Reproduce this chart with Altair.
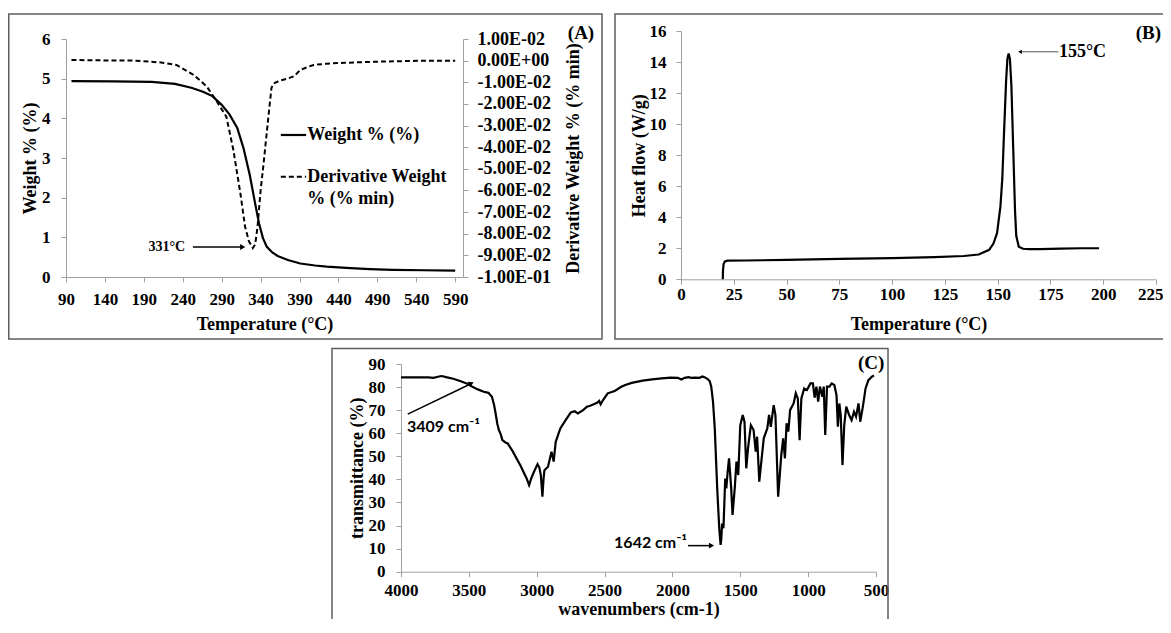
import altair as alt
import pandas as pd

# ======================= DATA =======================
# (A) TGA – weight % and derivative weight %
A_TEMP_WEIGHT = [97, 150, 200, 230, 251, 266, 278, 290, 300, 310, 318, 326, 333, 338,
                 343, 348, 355, 362, 375, 391, 410, 425, 450, 480, 510, 550, 590]
A_WEIGHT = [4.94, 4.93, 4.92, 4.87, 4.77, 4.67, 4.56, 4.34, 4.10, 3.76, 3.25, 2.58, 1.85, 1.35,
            0.98, 0.76, 0.62, 0.53, 0.43, 0.34, 0.29, 0.26, 0.23, 0.20, 0.18, 0.17, 0.16]
A_TEMP_DERIV = [97, 140, 180, 210, 232, 254, 271, 284, 296, 305, 314, 320, 325, 330, 333, 336,
                340, 344, 350, 354, 357, 365, 374, 383, 391, 400, 408, 425, 448, 470, 497, 540, 590]
A_DERIV = [0.0003, 0.0001, 0.0000, -0.0008, -0.0020, -0.0066, -0.0120, -0.0190, -0.0259,
           -0.0413, -0.0613, -0.0767, -0.0835, -0.0866, -0.0850, -0.0770, -0.0600, -0.0470,
           -0.0259, -0.0125, -0.0105, -0.0092, -0.0084, -0.0072, -0.0043, -0.0030, -0.0020,
           -0.0014, -0.0010, -0.0007, -0.0004, -0.0001, 0.0000]
A_X_TICKS = [90, 140, 190, 240, 290, 340, 390, 440, 490, 540, 590]
A_Y_TICKS = [0, 1, 2, 3, 4, 5, 6]
A_D_TICKS = [0.01, 0.0, -0.01, -0.02, -0.03, -0.04, -0.05, -0.06, -0.07, -0.08, -0.09, -0.1]
A_D_LABELS = ["1.00E-02", "0.00E+00", "-1.00E-02", "-2.00E-02", "-3.00E-02", "-4.00E-02",
              "-5.00E-02", "-6.00E-02", "-7.00E-02", "-8.00E-02", "-9.00E-02", "-1.00E-01"]
A_LEGEND = ["Weight % (%)", "Derivative Weight", "% (% min)"]
A_PEAK_LABEL = "331°C"

# (B) DSC – heat flow
B_TEMP = [19.8, 19.9, 20.2, 20.8, 22, 30, 50, 75, 100, 120, 134, 141, 146, 148, 149.7,
          151.3, 152.2, 153, 154, 154.6, 155.2, 155.8, 156.5, 157.4, 158.2, 158.8, 160,
          162, 165, 170, 180, 190, 198]
B_HEAT = [0.0, 0.6, 1.0, 1.15, 1.2, 1.21, 1.25, 1.31, 1.37, 1.43, 1.50, 1.60, 1.90, 2.30, 2.97,
          4.68, 6.5, 9.4, 12.8, 14.2, 14.55, 14.2, 12.5, 8.3, 4.5, 2.8, 2.1,
          1.97, 1.95, 1.95, 1.98, 2.0, 2.0]
B_X_TICKS = [0, 25, 50, 75, 100, 125, 150, 175, 200, 225]
B_Y_TICKS = [0, 2, 4, 6, 8, 10, 12, 14, 16]
B_PEAK_LABEL = "155°C"

# (C) FTIR – transmittance
C_WAVE = [4000, 3900, 3800, 3760, 3720, 3700, 3660, 3615, 3560, 3511,
          3470, 3434, 3390, 3356, 3330, 3315, 3305, 3290, 3279, 3265,
          3253, 3230, 3214, 3180, 3149, 3120, 3098, 3075, 3056, 3040,
          3020, 2994, 2980, 2970, 2958, 2950, 2943, 2917, 2891, 2875,
          2860, 2826, 2787, 2749, 2720, 2697, 2658, 2630, 2606, 2555,
          2540, 2529, 2510, 2477, 2425, 2380, 2348, 2300, 2219, 2150,
          2080, 2012, 1960, 1934, 1910, 1882, 1860, 1831, 1800, 1779,
          1760, 1740, 1725, 1714, 1701, 1688, 1670, 1655, 1645, 1640,
          1634, 1624, 1611, 1603, 1593, 1583, 1567, 1557, 1541, 1528,
          1515, 1500, 1482, 1469, 1456, 1443, 1422, 1402, 1386, 1376,
          1360, 1345, 1327, 1301, 1288, 1275, 1254, 1241, 1221, 1198,
          1184, 1171, 1159, 1146, 1133, 1107, 1091, 1076, 1063, 1050,
          1029, 1009, 983, 965, 952, 939, 926, 913, 895, 885,
          874, 861, 843, 827, 807, 791, 781, 770, 760, 747,
          734, 719, 698, 680, 662, 647, 629, 616, 595, 577,
          556, 530, 515]
C_TRANS = [84.2, 84.2, 84.2, 84.0, 84.6, 84.8, 84.2, 83.6, 82.5, 81.4,
           80.0, 79.0, 78.0, 77.5, 75.8, 72.5, 69.3, 64.0, 61.4, 59.5,
           57.0, 56.0, 55.6, 52.5, 49.1, 46.0, 43.3, 40.5, 37.5, 40.5,
           43.3, 46.6, 45.0, 42.0, 32.5, 40.0, 44.0, 45.5, 52.0, 47.7,
           56.3, 62.1, 65.7, 69.0, 69.5, 68.6, 70.0, 71.5, 71.9, 73.2,
           74.0, 72.5, 74.5, 77.3, 78.3, 80.0, 80.9, 81.8, 82.8, 83.3,
           83.8, 84.1, 84.0, 83.3, 84.0, 84.3, 84.0, 84.1, 84.0, 84.6,
           84.2, 83.5, 82.5, 80.2, 73.7, 62.1, 36.1, 18.8, 11.6, 14.0,
           20.9, 18.8, 40.4, 36.1, 43.3, 49.1, 36.1, 24.6, 36.1, 47.7,
           41.9, 63.5, 67.9, 65.0, 44.8, 53.4, 63.5, 61.4, 52.0, 58.5,
           39.0, 47.7, 57.8, 62.1, 67.9, 62.8, 72.2, 67.9, 32.5, 50.5,
           57.8, 49.1, 64.3, 60.7, 70.0, 72.9, 77.3, 75.1, 57.0, 75.1,
           79.4, 78.7, 81.6, 81.6, 75.4, 80.2, 73.7, 80.2, 75.8, 80.2,
           59.2, 80.2, 80.2, 81.6, 80.9, 76.5, 62.8, 72.9, 67.9, 46.2,
           63.5, 71.5, 67.9, 65.7, 69.3, 67.2, 72.9, 65.0, 72.2, 79.4,
           83.0, 84.5, 85.0]
C_X_TICKS = [4000, 3500, 3000, 2500, 2000, 1500, 1000, 500]
C_Y_TICKS = [0, 10, 20, 30, 40, 50, 60, 70, 80, 90]
C_PEAK_LABELS = ["3409 cm⁻¹", "1642 cm⁻¹"]

PANEL_LABELS = ["(A)", "(B)", "(C)"]

# ======================= LAYOUT / STYLE =======================
W, H = 1155, 611
OFF = 8  # page margin


def P(v):
    return v - OFF


SERIF = "Liberation Serif"
SANS = "Lato"
AXC = "#a0a0a0"
FRAME_C = "#5e5e5e"

A_XR = [P(66), P(463)]
A_YR = [P(277), P(39)]
B_XR = [P(681), P(1156)]
B_YR = [P(279.3), P(31)]
C_XR = [P(401), P(876)]
C_YR = [P(571.7), P(364)]


def make_axis(values, title, orient, offset, label_pad, title_pad, **extra):
    opts = dict(values=values, title=title, orient=orient, offset=offset, grid=False,
                domainColor=AXC, tickColor=AXC, tickSize=5, domainWidth=1, tickWidth=1,
                labelFont=SERIF, labelFontSize=17, labelFontWeight="bold", labelColor="black",
                labelPadding=label_pad, labelOverlap=False, labelFlush=False,
                titleFont=SERIF, titleFontSize=18, titleFontWeight="bold", titleColor="black",
                titlePadding=title_pad, minExtent=0)
    opts.update(extra)
    return alt.Axis(**opts)


# ======================= PANEL A =======================
xA = alt.X("T:Q", scale=alt.Scale(domain=[90, 600], range=A_XR, nice=False, zero=False),
           axis=make_axis(A_X_TICKS, "Temperature (°C)", "bottom", A_YR[0] - H, 9, 8))
yA = alt.Y("W:Q", scale=alt.Scale(domain=[0, 6], range=A_YR, nice=False, zero=False),
           axis=make_axis(A_Y_TICKS, "Weight % (%)", "left", -A_XR[0], 11, 2))

weight_line = alt.Chart(pd.DataFrame({"T": A_TEMP_WEIGHT, "W": A_WEIGHT})).mark_line(
    color="black", strokeWidth=2.2).encode(x=xA, y=yA)

a_ann_text = alt.Chart(pd.DataFrame({"T": [243], "W": [0.756], "label": [A_PEAK_LABEL]})).mark_text(
    align="right", baseline="middle", font=SERIF, fontWeight="bold", fontSize=14, color="black"
).encode(x=xA, y=yA, text="label:N")
a_ann_rule = alt.Chart(pd.DataFrame({"T": [253], "T2": [315], "W": [0.756]})).mark_rule(
    color="black", strokeWidth=1.5).encode(x=xA, x2="T2:Q", y=yA)
a_ann_head = alt.Chart(pd.DataFrame({"T": [317], "W": [0.756]})).mark_point(
    shape="triangle-right", filled=True, color="black", opacity=1, size=35).encode(x=xA, y=yA)

leg_solid = alt.Chart(pd.DataFrame({"T": [366], "T2": [398.5], "W": [3.58]})).mark_rule(
    color="black", strokeWidth=2.2).encode(x=xA, x2="T2:Q", y=yA)
leg_dash = alt.Chart(pd.DataFrame({"T": [366], "T2": [398.5], "W": [2.53]})).mark_rule(
    color="black", strokeWidth=2, strokeDash=[5, 3]).encode(x=xA, x2="T2:Q", y=yA)
leg_text = alt.Chart(pd.DataFrame({"T": [400, 400, 400], "W": [3.58, 2.53, 1.97], "label": A_LEGEND})).mark_text(
    align="left", baseline="middle", font=SERIF, fontWeight="bold", fontSize=18, color="black"
).encode(x=xA, y=yA, text="label:N")

d_label_expr = "[" + ",".join("'%s'" % s for s in A_D_LABELS) + "][round((0.01 - datum.value) * 100)]"
yD = alt.Y("D:Q", scale=alt.Scale(domain=[-0.1, 0.01], range=A_YR, nice=False, zero=False),
           axis=make_axis(A_D_TICKS, "Derivative Weight % (% min)", "right", A_XR[1] - W, 9, 14,
                          labelExpr=d_label_expr, labelFontSize=18, titleAngle=270,
                          titleBaseline="top"))
deriv_line = alt.Chart(pd.DataFrame({"T": A_TEMP_DERIV, "D": A_DERIV})).mark_line(
    color="black", strokeWidth=2, strokeDash=[5, 3]).encode(x=xA, y=yD)

panelA = alt.layer(
    alt.layer(weight_line, a_ann_rule, a_ann_head, a_ann_text, leg_solid, leg_dash, leg_text),
    deriv_line,
).resolve_scale(y="independent")

# ======================= PANEL B =======================
last_b = "datum.value == %d" % B_X_TICKS[-1]
xB = alt.X("T:Q", scale=alt.Scale(domain=[0, 225], range=B_XR, nice=False, zero=False),
           axis=make_axis(B_X_TICKS, "Temperature (°C)", "bottom", B_YR[0] - H, 2, 13,
                          labelAlign={"condition": {"test": last_b, "value": "right"}, "value": "center"},
                          labelOffset={"condition": {"test": last_b, "value": 7}, "value": 0}))
yB = alt.Y("HF:Q", scale=alt.Scale(domain=[0, 16], range=B_YR, nice=False, zero=False),
           axis=make_axis(B_Y_TICKS, "Heat flow (W/g)", "left", -B_XR[0], 10, 1))

heat_line = alt.Chart(pd.DataFrame({"T": B_TEMP, "HF": B_HEAT})).mark_line(
    color="black", strokeWidth=2.2).encode(x=xB, y=yB)
b_ann_text = alt.Chart(pd.DataFrame({"T": [179], "HF": [14.66], "label": [B_PEAK_LABEL]})).mark_text(
    align="left", baseline="middle", font=SERIF, fontWeight="bold", fontSize=18, color="black"
).encode(x=xB, y=yB, text="label:N")
b_ann_rule = alt.Chart(pd.DataFrame({"T": [161.5], "T2": [178.8], "HF": [14.66]})).mark_rule(
    color="#555555", strokeWidth=1).encode(x=xB, x2="T2:Q", y=yB)
b_ann_head = alt.Chart(pd.DataFrame({"T": [160.6], "HF": [14.66]})).mark_point(
    shape="triangle-left", filled=True, color="black", opacity=1, size=18).encode(x=xB, y=yB)

panelB = alt.layer(heat_line, b_ann_rule, b_ann_head, b_ann_text)

# ======================= PANEL C =======================
xC = alt.X("WN:Q", scale=alt.Scale(domain=[4000, 500], range=C_XR, nice=False, zero=False),
           axis=make_axis(C_X_TICKS, "wavenumbers (cm-1)", "bottom", C_YR[0] - H, 6, 2,
                          format="d"))
yC = alt.Y("TR:Q", scale=alt.Scale(domain=[0, 90], range=C_YR, nice=False, zero=False),
           axis=make_axis(C_Y_TICKS, "transmittance (%)", "left", -C_XR[0], 11, 2))

ir_line = alt.Chart(pd.DataFrame({"WN": C_WAVE, "TR": C_TRANS})).mark_line(
    color="black", strokeWidth=2.2).encode(x=xC, y=yC)
c_ann_text = alt.Chart(pd.DataFrame({"WN": [3956, 2430], "TR": [62.7, 12.4], "label": C_PEAK_LABELS})).mark_text(
    align="left", baseline="middle", font=SANS, fontWeight="bold", fontSize=16, color="black"
).encode(x=xC, y=yC, text="label:N")
c_rule1 = alt.Chart(pd.DataFrame({"WN": [3950], "WN2": [3500], "TR": [68.3], "TR2": [81.0]})).mark_rule(
    color="black", strokeWidth=1.5).encode(x=xC, x2="WN2:Q", y=yC, y2="TR2:Q")
c_head1 = alt.Chart(pd.DataFrame({"WN": [3482], "TR": [81.6]})).mark_point(
    shape="triangle-up", angle=64, filled=True, color="black", opacity=1, size=35).encode(x=xC, y=yC)
c_rule2 = alt.Chart(pd.DataFrame({"WN": [1885], "WN2": [1722], "TR": [11.3]})).mark_rule(
    color="black", strokeWidth=1.5).encode(x=xC, x2="WN2:Q", y=yC)
c_head2 = alt.Chart(pd.DataFrame({"WN": [1712], "TR": [11.3]})).mark_point(
    shape="triangle-right", filled=True, color="black", opacity=1, size=35).encode(x=xC, y=yC)

panelC = alt.layer(ir_line, c_rule1, c_head1, c_rule2, c_head2, c_ann_text)


# ======================= FRAMES & PANEL LETTERS =======================
def frame(x0, y0, x1, y1):
    return alt.Chart(pd.DataFrame({"k": [0]})).mark_rect(
        fill="white", fillOpacity=0, stroke=FRAME_C, strokeWidth=1.5
    ).encode(x=alt.value(x0), x2=alt.value(x1), y=alt.value(y0), y2=alt.value(y1))


def fixed_text(text, x, y, align):
    return alt.Chart(pd.DataFrame({"t": [text]})).mark_text(
        align=align, baseline="middle", font=SERIF, fontWeight="bold", fontSize=19, color="black"
    ).encode(x=alt.value(x), y=alt.value(y), text="t:N")


frames = [
    frame(P(8.75), P(14), P(602), P(339)),
    frame(P(615), P(14), P(1190), P(339)),
    frame(P(332), P(348.5), P(888), P(660)),
]
letters = [
    fixed_text(PANEL_LABELS[0], P(581), P(33), "center"),
    fixed_text(PANEL_LABELS[1], P(1161), P(33), "right"),
    fixed_text(PANEL_LABELS[2], P(858), P(363), "left"),
]

chart = alt.layer(*frames, *letters, panelA, panelB, panelC).resolve_scale(
    x="independent", y="independent"
).properties(
    width=W, height=H, padding=0, autosize=alt.AutoSizeParams(type="none")
).configure_view(strokeWidth=0)

chart.save("out.html", embed_options={"renderer": "svg", "actions": False})
